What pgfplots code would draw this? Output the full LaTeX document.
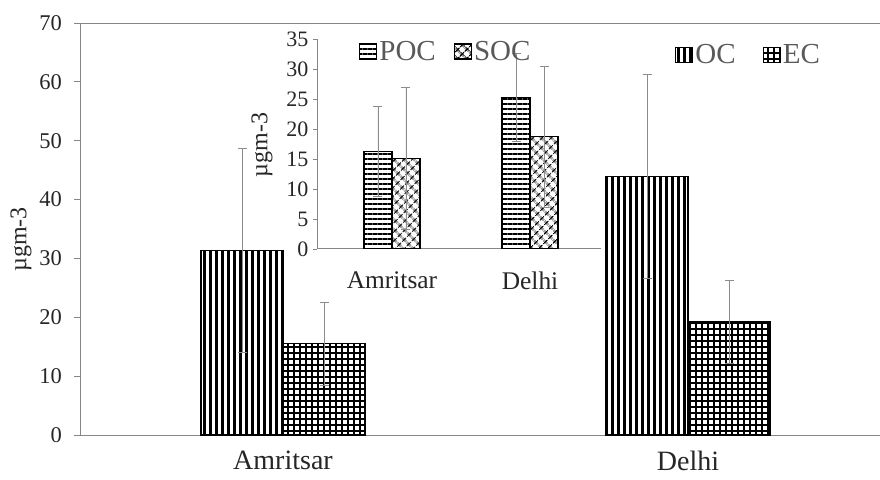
\documentclass[border=0pt]{standalone}
\usepackage{pgfplots}
\pgfplotsset{compat=1.18}
\usepackage{fontspec}
\setmainfont{Liberation Serif}
\usetikzlibrary{patterns.meta}
\definecolor{axgray}{HTML}{868686}
\definecolor{errgray}{HTML}{8C8C8C}
\definecolor{leggray}{HTML}{595959}
\tikzset{
  pOC/.style={pattern={Lines[angle=90,distance=6pt,line width=3pt]},pattern color=black},
  pEC/.style={pattern={Hatch[angle=0,distance=6pt,line width=1.1pt]},pattern color=black},
  pPOC/.style={pattern={Lines[angle=0,distance=5pt,line width=1.6pt]},pattern color=black},
  pSOC/.style={pattern={Hatch[angle=45,distance=6.4pt,line width=1.3pt]},pattern color=black},
}
\pgfplotsset{
  boxlegend/.style={legend image code/.code={\draw[##1,line width=1.2pt] (0pt,-7.5pt) rectangle (17pt,7.5pt);}},
  errs/.style={error bars/.cd, y dir=both, y explicit,
    error bar style={errgray,line width=0.9pt},
    error mark options={errgray,line width=0.9pt,mark size=4.5pt,rotate=90}},
}
\begin{document}
\begin{tikzpicture}[x=1pt,y=1pt]
\path[use as bounding box] (0,0) rectangle (880,479);
% main axis
\begin{axis}[
  at={(80.5pt,44pt)}, anchor=south west,
  scale only axis, width=810pt, height=412pt,
  xmin=0.5, xmax=2.5, ymin=0, ymax=70,
  ytick={0,10,...,70}, xtick={1,2}, xticklabels={Amritsar,Delhi},
  ytick pos=left, xtick pos=bottom,
  major x tick style={draw=none},
  tick align=outside, major tick length=6pt,
  y tick style={axgray,line width=0.9pt},
  axis line style={axgray,line width=1pt},
  /pgf/number format/assume math mode=true,
  yticklabel style={font=\fontsize{22.5}{22.5}\selectfont, text=black!85, xshift=-9pt},
  xticklabel style={font=\fontsize{28}{28}\selectfont, text=black!85, inner sep=0pt, yshift=-10pt},
  ylabel={µgm-3},
  ylabel style={at={(axis description cs:-0.0735,0.475)}, anchor=center, font=\fontsize{24}{24}\selectfont, text=black!85},
  ybar=0pt, bar width=82pt,
  legend columns=2,
  legend style={draw=none, fill=none, at={(rel axis cs:0.734,0.922)}, anchor=west,
    font=\fontsize{29}{29}\selectfont, text=leggray, inner xsep=0pt, inner ysep=0pt,
    /tikz/every even column/.append style={column sep=25pt}},
  boxlegend,
]
\addplot[draw=black, line width=1.2pt, pOC, errs] coordinates {(1,31.4) +- (0,17.3) (2,43.9) +- (0,17.3)};
\addlegendentry{OC}
\addplot[draw=black, line width=1.2pt, pEC, errs] coordinates {(1,15.5) +- (0,7.0) (2,19.2) +- (0,7.1)};
\addlegendentry{EC}
\end{axis}
% inset axis
\begin{axis}[
  at={(317pt,230pt)}, anchor=south west,
  scale only axis, width=284pt, height=210pt,
  xmin=0.457, xmax=2.514, ymin=0, ymax=35,
  ytick={0,5,...,35}, xtick={1,2}, xticklabels={Amritsar,Delhi},
  axis lines*=left,
  major x tick style={draw=none},
  tick align=outside, major tick length=4pt,
  y tick style={axgray,line width=0.9pt},
  axis line style={axgray,line width=1pt},
  /pgf/number format/assume math mode=true,
  yticklabel style={font=\fontsize{22}{22}\selectfont, text=black!85, xshift=-1pt},
  xticklabel style={font=\fontsize{25.4}{25.4}\selectfont, text=black!85, yshift=-15pt},
  ylabel={µgm-3},
  ylabel style={at={(axis description cs:-0.194,0.495)}, anchor=center, font=\fontsize{24}{24}\selectfont, text=black!85},
  ybar=0pt, bar width=28pt,
  legend columns=2,
  legend style={draw=none, fill=none, at={(rel axis cs:0.148,0.94)}, anchor=west,
    font=\fontsize{29}{29}\selectfont, text=leggray, inner xsep=0pt, inner ysep=0pt,
    /tikz/every even column/.append style={column sep=16pt}},
  boxlegend,
]
\addplot[draw=black, line width=1.2pt, pPOC, errs] coordinates {(1,16.2) +- (0,7.5) (2,25.3) +- (0,7.3)};
\addlegendentry{POC}
\addplot[draw=black, line width=1.2pt, pSOC, errs] coordinates {(1,15.1) +- (0,11.8) (2,18.7) +- (0,11.7)};
\addlegendentry{SOC}
\end{axis}
\end{tikzpicture}
\end{document}
